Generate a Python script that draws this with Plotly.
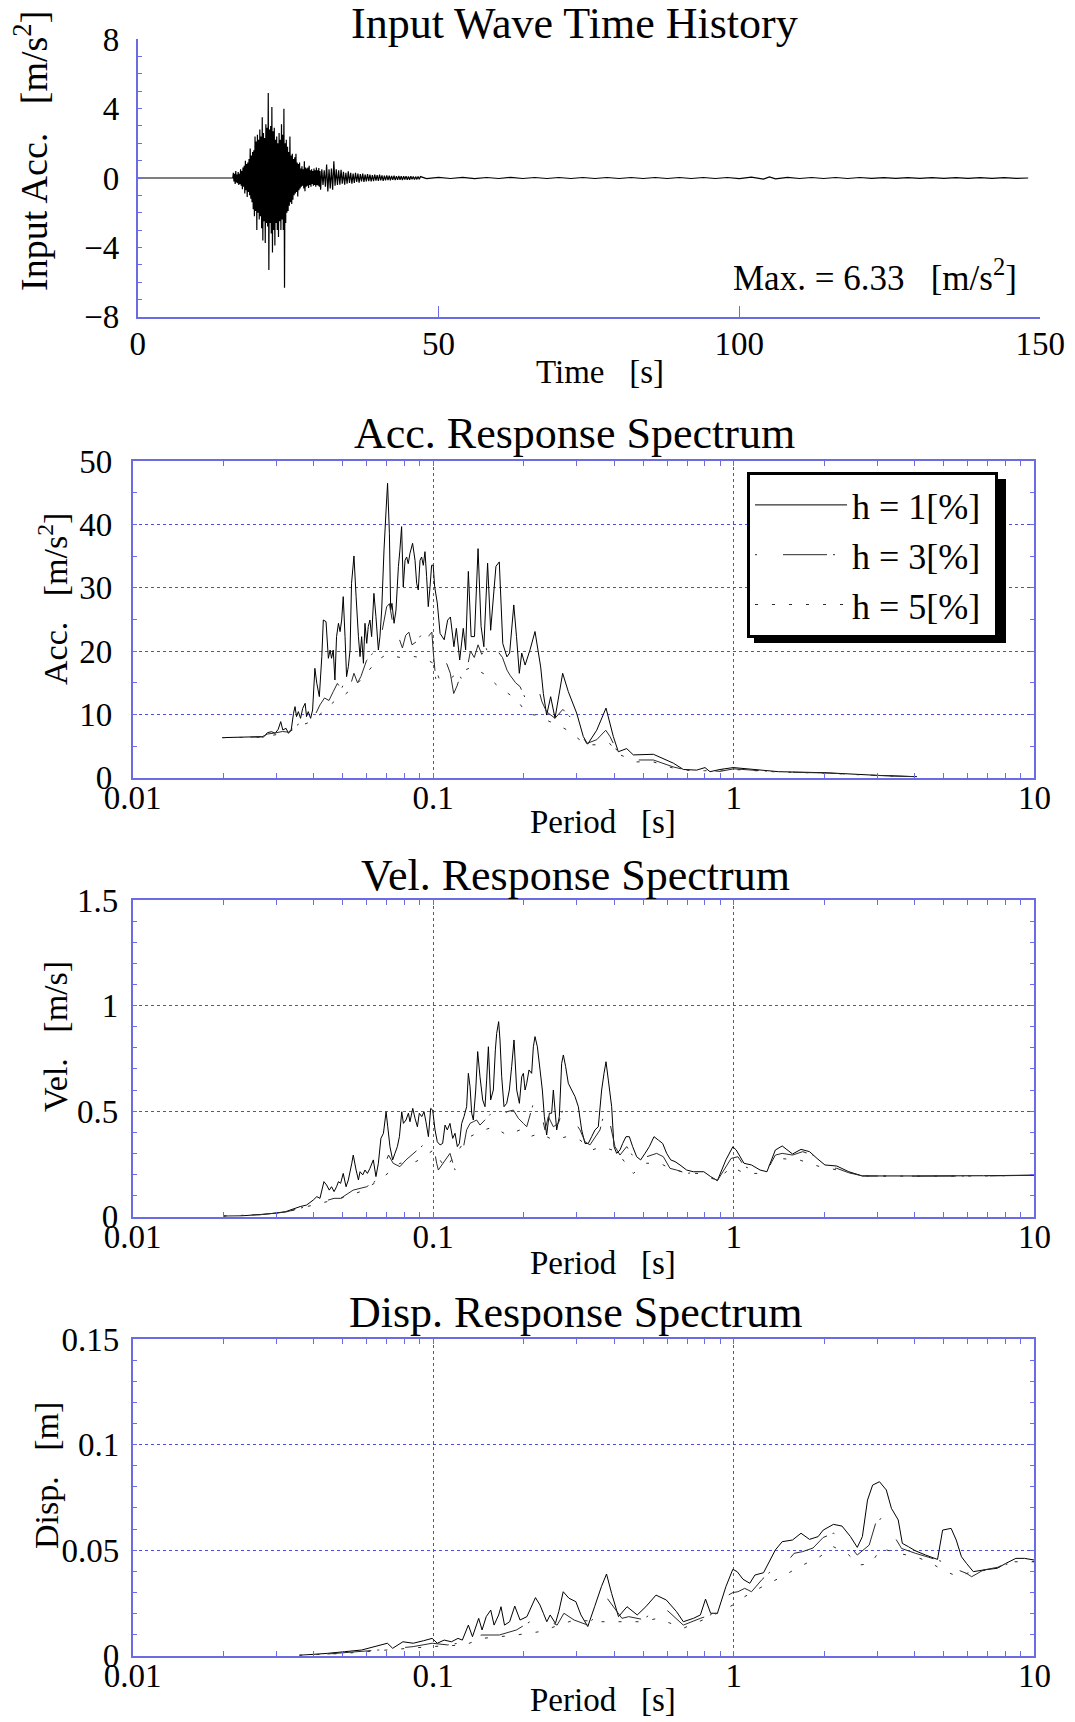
import plotly.graph_objects as go

# ---------------- data ----------------
time_s = [0.0, 15.8,
          15.9, 16.0, 16.1, 16.2, 16.3, 16.4, 16.5, 16.6, 16.7, 16.8, 16.9, 17.0, 17.1, 17.2,
          17.3, 17.4, 17.5, 17.6, 17.7, 17.8, 17.9, 18.0, 18.1, 18.2, 18.3, 18.4, 18.5, 18.6,
          18.7, 18.8, 18.9, 19.0, 19.1, 19.2, 19.3, 19.4, 19.5, 19.6, 19.7, 19.8, 19.9, 20.0,
          20.1, 20.2, 20.3, 20.4, 20.5, 20.6, 20.7, 20.8, 20.9, 21.0, 21.1, 21.2, 21.3, 21.4,
          21.5, 21.6, 21.7, 21.8, 21.9, 22.0, 22.1, 22.2, 22.3, 22.4, 22.5, 22.6, 22.7, 22.8,
          22.9, 23.0, 23.1, 23.2, 23.3, 23.4, 23.5, 23.6, 23.7, 23.8, 23.9, 24.0, 24.1, 24.2,
          24.3, 24.4, 24.5, 24.6, 24.7, 24.8, 24.9, 25.0, 25.1, 25.2, 25.3, 25.4, 25.5, 25.6,
          25.7, 25.8, 25.9, 26.0, 26.1, 26.2, 26.3, 26.4, 26.5, 26.6, 26.7, 26.8, 26.9, 27.0,
          27.1, 27.2, 27.3, 27.4, 27.5, 27.6, 27.7, 27.8, 27.9, 28.0, 28.1, 28.2, 28.3, 28.4,
          28.5, 28.6, 28.7, 28.8, 28.9, 29.0, 29.1, 29.2, 29.3, 29.4, 29.5, 29.6, 29.7, 29.8,
          29.9, 30.0, 30.1, 30.2, 30.3,
          30.4, 30.6, 30.8, 31.0, 31.2, 31.4, 31.6, 31.8, 32.0, 32.2, 32.4, 32.6, 32.8, 33.0,
          33.2, 33.4, 33.6, 33.8, 34.0, 34.2, 34.4, 34.6, 34.8, 35.0, 35.2, 35.4, 35.6, 35.8,
          36.0, 36.2, 36.4, 36.6, 36.8, 37.0, 37.2, 37.4, 37.6, 37.8, 38.0, 38.2, 38.4, 38.6,
          38.8, 39.0, 39.2, 39.4, 39.6, 39.8, 40.0, 40.2, 40.4, 40.6, 40.8, 41.0, 41.2, 41.4,
          41.6, 41.8, 42.0, 42.2, 42.4, 42.6, 42.8, 43.0, 43.2, 43.4, 43.6, 43.8, 44.0, 44.2,
          44.4, 44.6, 44.8, 45.0, 45.2, 45.4, 45.6, 45.8, 46.0, 46.2, 46.4, 46.6, 46.8, 47.0,
          48, 50, 52, 54, 56, 58, 60, 62, 64, 66, 68, 70, 72, 74, 76, 78, 80, 82, 84, 86, 88,
          90, 92, 94, 96, 98, 100, 102, 104, 105, 106, 108, 110, 112, 114, 116, 118, 120, 122,
          124, 126, 128, 130, 132, 134, 136, 138, 140, 142, 144, 146, 148]
input_acc = [0.0, 0.0,
             0.30, -0.20, 0.25, -0.35, 0.40, -0.25, 0.20, -0.30, 0.35, -0.40, 0.25, -0.35, 0.50, -0.45,
             0.40, -0.65, 0.60, -0.50, 0.70, -0.90, 1.00, -0.70, 0.80, -1.10, 0.90, -0.80, 1.10, -1.00,
             1.70, -1.20, 1.30, -1.40, 1.50, -1.80, 1.60, -2.20, 2.40, -1.90, 2.10, -3.00, 2.50, -2.00,
             2.20, -2.40, 2.80, -2.20, 2.40, -2.90, 3.50, -3.60, 2.60, -2.50, 2.30, -3.75, 3.10, -2.60,
             2.90, -2.80, 4.90, -5.30, 2.80, -2.60, 3.00, -3.20, 4.10, -4.30, 2.70, -3.00, 2.90, -3.90,
             2.20, -2.60, 2.40, -3.00, 2.00, -3.40, 2.60, -2.50, 2.20, -3.00, 3.10, -2.40, 2.50, -3.00,
             4.00, -6.33, 2.00, -2.60, 2.20, -2.00, 1.80, -1.90, 1.50, -1.60, 2.40, -1.40, 1.30, -1.50,
             1.40, -1.25, 1.10, -1.00, 1.20, -0.90, 1.40, -0.80, 0.90, -1.06, 0.80, -0.70, 0.90, -0.60,
             0.55, -0.50, 0.67, -0.45, 0.50, -0.60, 0.96, -0.77, 0.60, -0.50, 0.55, -0.45, 0.60, -0.58,
             0.70, -0.40, 0.45, -0.50, 0.50, -0.35, 0.40, -0.45, 0.55, -0.40, 0.45, -0.50, 0.60, -0.40,
             0.45, -0.45, 0.58, -0.50, 0.40,
             -0.67, 0.50, -0.40, 0.45, -0.50, 0.77, -0.77, 0.50, -0.60, 0.55, -0.67, 0.96, -0.45, 0.50,
             -0.40, 0.45, -0.38, 0.48, -0.33, 0.35, -0.38, 0.30, -0.33, 0.38, -0.28, 0.30, -0.33, 0.25,
             -0.28, 0.30, -0.22, 0.25, -0.27, 0.22, -0.20, 0.25, -0.22, 0.20, -0.19, 0.22, -0.18, 0.20,
             -0.20, 0.17, -0.18, 0.19, -0.15, 0.17, -0.17, 0.19, -0.14, 0.15, -0.16, 0.13, -0.14, 0.15,
             -0.12, 0.13, -0.13, 0.12, -0.11, 0.13, -0.12, 0.10, -0.11, 0.12, -0.10, 0.11, -0.12, 0.10,
             -0.09, 0.11, -0.10, 0.09, -0.10, 0.10, -0.08, 0.09, -0.09, 0.08, -0.08, 0.09, -0.07, 0.08,
             -0.04, 0.04, -0.03, 0.04, -0.04, 0.03, -0.03, 0.04, -0.03, 0.03, -0.03, 0.03, -0.03,
             0.03, -0.03, 0.03, -0.03, 0.03, -0.03, 0.03, -0.03, 0.03, -0.03, 0.03, -0.03, 0.03,
             -0.04, 0.05, -0.06, 0.06, -0.05, 0.04, -0.03, 0.03, -0.03, 0.03, -0.03, 0.03, -0.02,
             0.02, -0.02, 0.02, -0.02, 0.02, -0.02, 0.02, -0.02, 0.02, -0.02, 0.02, -0.02, 0.0]

# Acceleration response spectrum [m/s2]
acc_T_h1 = [0.0199, 0.0269, 0.0272, 0.0281, 0.0290, 0.0298, 0.0305, 0.0311, 0.0316, 0.0324,
            0.0330, 0.0337, 0.0343, 0.0347, 0.0351, 0.0356, 0.0362, 0.0368, 0.0375, 0.0379,
            0.0384, 0.0391, 0.0397, 0.0404, 0.0410, 0.0418, 0.0426, 0.0431, 0.0440, 0.0448,
            0.0454, 0.0459, 0.0465, 0.0471, 0.0477, 0.0484, 0.0490, 0.0496, 0.0502, 0.0509,
            0.0515, 0.0522, 0.0529, 0.0535, 0.0545, 0.0554, 0.0564, 0.0571, 0.0578, 0.0586,
            0.0593, 0.0601, 0.0608, 0.0616, 0.0624, 0.0635, 0.0645, 0.0657, 0.0665, 0.0674,
            0.0686, 0.0697, 0.0705, 0.0715, 0.0722, 0.0729, 0.0741, 0.0752, 0.0766, 0.0775,
            0.0785, 0.0795, 0.0806, 0.0816, 0.0826, 0.0837, 0.0854, 0.0870, 0.0881, 0.0892,
            0.0904, 0.0915, 0.0927, 0.0939, 0.0951, 0.0963, 0.0976, 0.0988, 0.1000, 0.1011,
            0.1032, 0.1054, 0.1088, 0.1117, 0.1141, 0.1172, 0.1194, 0.1225, 0.1259, 0.1282,
            0.1309, 0.1337, 0.1372, 0.1410, 0.1443, 0.1474, 0.1517, 0.1553, 0.1617, 0.1659,
            0.1704, 0.1759, 0.1796, 0.1854, 0.1893, 0.1934, 0.1970, 0.2022, 0.2099, 0.2181,
            0.2278, 0.2325, 0.2385, 0.2459, 0.2542, 0.2696, 0.2815, 0.3001, 0.3158, 0.3265,
            0.3499, 0.3757, 0.3974, 0.4129, 0.4402, 0.4632, 0.5400, 0.6293, 0.6794, 0.7525,
            0.8021, 0.8334, 0.8997, 0.9964, 1.41, 2.01, 3.01, 4.07]
acc_h1 = [6.33, 6.49, 6.38, 7.12, 7.27, 7.01, 7.64, 8.86, 7.54, 7.80,
          7.01, 7.54, 10.17, 11.23, 9.65, 10.44, 9.38, 10.96, 11.75, 9.65,
          10.44, 9.38, 10.70, 17.28, 14.92, 12.81, 19.13, 24.92, 24.66, 18.87,
          20.18, 18.87, 20.18, 15.44, 22.29, 24.40, 23.08, 24.92, 28.61, 22.29,
          15.97, 17.55, 20.18, 30.72, 35.04, 28.61, 22.29, 19.13, 22.29, 18.08,
          24.40, 21.23, 23.87, 24.92, 22.29, 29.13, 25.45, 20.18, 22.29, 26.50,
          35.99, 42.31, 46.53, 38.63, 26.50, 27.56, 24.40, 26.50, 33.35, 35.99,
          39.68, 30.14, 34.36, 34.88, 33.83, 35.46, 37.04, 34.36, 30.72, 29.67,
          34.36, 34.88, 33.57, 35.72, 31.77, 27.03, 30.14, 33.57, 33.6, 30.2,
          27.6, 22.8, 21.8, 24.9, 25.4, 20.7, 23.6, 18.6, 23.6, 20.2,
          32.6, 22.3, 22.3, 36.2, 23.9, 20.7, 33.9, 23.3, 33.4, 34.1,
          21.2, 19.1, 19.7, 27.3, 22.3, 16.5, 19.7, 17.8, 20.2, 23.1,
          17.5, 13.3, 9.9, 12.8, 9.4, 16.5, 13.6, 10.2, 6.5, 5.3,
          7.5, 11.0, 6.5, 4.1, 4.6, 3.6, 3.7, 2.3, 1.3, 1.2,
          1.6, 0.95, 1.3, 1.6, 0.95, 0.79, 0.37, 0.16]
acc_T_h3 = [0.0199, 0.0269, 0.0281, 0.0300, 0.0315, 0.0330, 0.0345, 0.0360, 0.0375, 0.0390,
            0.0400, 0.0420, 0.0435, 0.0450, 0.0465, 0.0480, 0.0495, 0.0510, 0.0525, 0.0545,
            0.0560, 0.0575, 0.0600, 0.0625, 0.0650, 0.0675, 0.0700, 0.0715, 0.0730, 0.0750,
            0.0770, 0.0790, 0.0810, 0.0830, 0.0850, 0.0880, 0.0910, 0.0940, 0.0970, 0.0990,
            0.1000, 0.1020, 0.1050, 0.1080, 0.1110, 0.1140, 0.1170, 0.1200, 0.1230, 0.1260,
            0.1300, 0.1330, 0.1370, 0.1410, 0.1450, 0.1500, 0.1545, 0.1590, 0.1626, 0.1700,
            0.1760, 0.1801, 0.1880, 0.1945, 0.2036, 0.2120, 0.2238, 0.2300, 0.2385, 0.2542,
            0.2700, 0.2852, 0.3001, 0.3240, 0.3499, 0.3750, 0.3874, 0.4129, 0.4402, 0.4752,
            0.5400, 0.6293, 0.6970, 0.8000, 0.9000, 1.0000, 1.41, 2.01, 3.01, 4.07]
acc_h3 = [6.33, 6.45, 6.9, 7.1, 7.3, 7.2, 8.0, 8.6, 8.9, 8.4,
          9.4, 11.5, 12.6, 12.2, 13.6, 14.9, 14.0, 15.5, 13.9, 16.5,
          15.0, 16.0, 18.5, 19.5, 20.5, 23.0, 27.0, 27.5, 25.0, 26.0,
          22.0, 20.5, 22.5, 23.0, 21.0, 21.5, 22.5, 20.5, 22.5, 23.0,
          20.0, 15.5, 16.0, 18.5, 18.0, 16.5, 13.3, 14.5, 16.0, 15.0,
          17.5, 20.0, 19.0, 21.0, 19.5, 20.5, 18.6, 19.5, 20.2, 19.0,
          17.0, 16.2, 15.0, 14.4, 12.3, 12.8, 14.1, 12.0, 10.4, 9.4,
          10.8, 9.6, 8.1, 5.4, 6.0, 7.5, 6.5, 3.8, 3.8, 2.8,
          2.8, 1.7, 1.2, 1.2, 1.0, 1.4, 0.9, 0.75, 0.35, 0.15]
acc_T_h5 = [0.0199, 0.0269, 0.0300, 0.0330, 0.0360, 0.0390, 0.0420, 0.0450, 0.0480, 0.0510,
            0.0550, 0.0600, 0.0650, 0.0700, 0.0775, 0.0850, 0.0930, 0.1000, 0.1050, 0.1130,
            0.1200, 0.1350, 0.1500, 0.1630, 0.1800, 0.1900, 0.2050, 0.2180, 0.2600, 0.2800,
            0.3070, 0.3300, 0.3600, 0.3870, 0.4100, 0.4750, 0.5400, 0.6300, 0.7000, 0.8000,
            1.0000, 1.41, 2.01, 3.01, 4.07]
acc_h5 = [6.33, 6.4, 6.8, 7.2, 8.2, 8.8, 10.0, 11.3, 12.5, 13.2,
          14.5, 16.5, 18.5, 19.5, 19.0, 19.2, 18.9, 18.1, 15.5, 15.5,
          16.5, 17.5, 16.2, 14.6, 13.1, 12.3, 10.1, 9.9, 8.3, 7.5,
          6.0, 5.2, 5.2, 5.4, 3.8, 2.5, 2.5, 1.5, 1.2, 1.1,
          1.3, 0.9, 0.72, 0.33, 0.15]

# Velocity response spectrum [m/s]
vel_T_h1 = [0.0201, 0.0230, 0.0269, 0.0299, 0.0323,
            0.0361, 0.0379, 0.0399, 0.0410, 0.0420, 0.0433, 0.0442, 0.0451, 0.0459, 0.0468,
            0.0477, 0.0484, 0.0492, 0.0502, 0.0513, 0.0522, 0.0536, 0.0542, 0.0554, 0.0564,
            0.0571, 0.0583, 0.0593, 0.0604, 0.0616, 0.0632, 0.0645, 0.0657, 0.0670, 0.0683,
            0.0697, 0.0706, 0.0718, 0.0733, 0.0746, 0.0760, 0.0772, 0.0786, 0.0796, 0.0812,
            0.0827, 0.0837, 0.0855, 0.0870, 0.0886, 0.0899, 0.0916, 0.0932, 0.0946, 0.0964,
            0.0981, 0.0996, 0.1014, 0.1032, 0.1054, 0.1075, 0.1095, 0.1114, 0.1137, 0.1161,
            0.1182, 0.1203, 0.1222, 0.1244, 0.1266, 0.1292, 0.1309, 0.1326, 0.1343, 0.1360,
            0.1385, 0.1406, 0.1431, 0.1461, 0.1487, 0.1506, 0.1526, 0.1553, 0.1585, 0.1610,
            0.1626, 0.1651, 0.1668, 0.1690, 0.1720, 0.1756, 0.1792, 0.1824, 0.1857, 0.1896,
            0.1935, 0.1970, 0.1995, 0.2021, 0.2047, 0.2083, 0.2126, 0.2154, 0.2181, 0.2221,
            0.2267, 0.2307, 0.2343, 0.2385, 0.2434, 0.2478, 0.2510, 0.2575, 0.2628, 0.2675,
            0.2710, 0.2758, 0.2815, 0.2888, 0.2963, 0.3040, 0.3118, 0.3199, 0.3281, 0.3366,
            0.3453, 0.3542, 0.3634, 0.3700, 0.3757, 0.3825, 0.3924, 0.3994, 0.4077, 0.4182,
            0.4269, 0.4379, 0.4492, 0.4608, 0.4752, 0.4900, 0.5065, 0.5236, 0.5427, 0.5610,
            0.5799, 0.5980, 0.6166, 0.6374, 0.6623, 0.6969, 0.7334, 0.7947, 0.8373, 0.882,
            0.9413, 0.9924, 1.0186, 1.081, 1.145, 1.223, 1.289, 1.375, 1.449, 1.568,
            1.674, 1.786, 1.892, 2.01, 2.201, 2.413, 2.678, 4.016, 6.772, 10.0]
vel_h1 = [0.003, 0.004, 0.011, 0.017, 0.024,
          0.048, 0.055, 0.079, 0.095, 0.087, 0.166, 0.150, 0.126, 0.142, 0.119,
          0.142, 0.166, 0.158, 0.205, 0.142, 0.174, 0.253, 0.292, 0.221, 0.174,
          0.213, 0.198, 0.221, 0.205, 0.229, 0.269, 0.190, 0.253, 0.371, 0.395,
          0.497, 0.426, 0.332, 0.269, 0.300, 0.332, 0.379, 0.497, 0.442, 0.458,
          0.490, 0.450, 0.513, 0.466, 0.426, 0.490, 0.474, 0.497, 0.450, 0.379,
          0.513, 0.505, 0.411, 0.355, 0.340, 0.347, 0.434, 0.411, 0.442, 0.371,
          0.395, 0.332, 0.347, 0.442, 0.474, 0.521, 0.679, 0.616, 0.490, 0.458,
          0.600, 0.782, 0.663, 0.553, 0.521, 0.647, 0.805, 0.553, 0.600, 0.790,
          0.868, 0.924, 0.837, 0.663, 0.521, 0.537, 0.600, 0.711, 0.837, 0.600,
          0.537, 0.663, 0.679, 0.600, 0.632, 0.695, 0.679, 0.805, 0.853, 0.805,
          0.695, 0.600, 0.474, 0.387, 0.490, 0.490, 0.600, 0.411, 0.474, 0.726,
          0.766, 0.711, 0.632, 0.600, 0.569, 0.521, 0.411, 0.347, 0.347, 0.379,
          0.411, 0.426, 0.600, 0.679, 0.734, 0.647, 0.521, 0.332, 0.300, 0.316,
          0.347, 0.379, 0.379, 0.332, 0.284, 0.269, 0.300, 0.332, 0.379, 0.363,
          0.347, 0.300, 0.269, 0.261, 0.245, 0.221, 0.213, 0.213, 0.190, 0.171,
          0.269, 0.331, 0.316, 0.253, 0.245, 0.221, 0.213, 0.316, 0.335, 0.297,
          0.319, 0.308, 0.276, 0.245, 0.240, 0.213, 0.193, 0.193, 0.194, 0.197]
vel_T_h3 = [0.0201, 0.0269, 0.0323, 0.0361, 0.0410, 0.0468, 0.0492, 0.0542, 0.0601, 0.0651,
            0.0667, 0.0710, 0.0736, 0.0775, 0.0812, 0.0927, 0.0976, 0.1001, 0.1027, 0.1040,
            0.1137, 0.1182, 0.1212, 0.1253, 0.1292, 0.1326, 0.1360, 0.1395, 0.1431, 0.1561,
            0.1626, 0.1668, 0.1711, 0.1756, 0.1848, 0.1920, 0.1995, 0.2047, 0.2154, 0.2210,
            0.2267, 0.2355, 0.2416, 0.2510, 0.2608, 0.2710, 0.2780, 0.2926, 0.3079, 0.3199,
            0.3323, 0.3588, 0.3727, 0.3874, 0.4025, 0.4182, 0.4402, 0.4632, 0.4875, 0.5130,
            0.5540, 0.5829, 0.6134, 0.6455, 0.6969, 0.7717, 0.7947, 0.882, 0.9795, 1.032,
            1.087, 1.207, 1.289, 1.375, 1.449, 1.568, 1.695, 1.834, 1.983, 2.201,
            2.413, 2.678, 4.016, 6.772, 10.0]
vel_h3 = [0.003, 0.010, 0.022, 0.040, 0.063, 0.087, 0.087, 0.126, 0.142, 0.174,
          0.190, 0.292, 0.253, 0.237, 0.269, 0.340, 0.360, 0.340, 0.253, 0.221,
          0.300, 0.221, 0.253, 0.308, 0.411, 0.442, 0.450, 0.458, 0.434, 0.490,
          0.521, 0.505, 0.474, 0.497, 0.505, 0.466, 0.442, 0.426, 0.537, 0.537,
          0.513, 0.411, 0.474, 0.426, 0.442, 0.513, 0.490, 0.458, 0.411, 0.355,
          0.340, 0.411, 0.505, 0.442, 0.332, 0.292, 0.332, 0.284, 0.237, 0.284,
          0.300, 0.284, 0.229, 0.221, 0.205, 0.213, 0.205, 0.171, 0.276, 0.284,
          0.237, 0.213, 0.218, 0.292, 0.300, 0.292, 0.308, 0.292, 0.237, 0.229,
          0.208, 0.193, 0.192, 0.193, 0.196]
vel_T_h5 = [0.0201, 0.0269, 0.0323, 0.0361, 0.0420, 0.0492, 0.0571, 0.0651, 0.0718, 0.0775,
            0.0876, 0.0934, 0.1001, 0.1100, 0.1292, 0.1431, 0.1585, 0.1756, 0.1945, 0.2099,
            0.2267, 0.2510, 0.2780, 0.3079, 0.3375, 0.3643, 0.3934, 0.4247, 0.4632, 0.5130,
            0.5683, 0.5980, 0.6969, 0.7717, 0.882, 0.9795, 1.087, 1.207, 1.411, 1.651,
            1.932, 2.382, 2.678, 4.016, 6.772, 10.0]
vel_h5 = [0.003, 0.010, 0.021, 0.040, 0.063, 0.087, 0.118, 0.166, 0.213, 0.253,
          0.261, 0.284, 0.316, 0.229, 0.371, 0.403, 0.426, 0.387, 0.411, 0.379,
          0.395, 0.363, 0.379, 0.363, 0.316, 0.332, 0.316, 0.276, 0.205, 0.253,
          0.253, 0.237, 0.205, 0.205, 0.171, 0.237, 0.205, 0.205, 0.276, 0.269,
          0.237, 0.213, 0.193, 0.192, 0.193, 0.196]

# Displacement response spectrum [m]
disp_T_h1 = [0.0359, 0.0444, 0.0507, 0.0578, 0.0704, 0.0733, 0.0793, 0.0858, 0.0929, 0.0992,
             0.1032, 0.1088, 0.1150, 0.1209, 0.1250, 0.1309, 0.1351, 0.1417, 0.1454, 0.1501,
             0.1554, 0.1594, 0.1651, 0.1681, 0.1727, 0.1796, 0.1868, 0.1945, 0.2050, 0.2189,
             0.2266, 0.2326, 0.2387, 0.2450, 0.2550, 0.2617, 0.2707, 0.2830, 0.2982, 0.3101,
             0.3268, 0.3443, 0.3627, 0.3772, 0.3922, 0.4135, 0.4414, 0.4772, 0.5097, 0.5511,
             0.5960, 0.6446, 0.6792, 0.7342, 0.7742, 0.8053, 0.8373, 0.8820, 0.9413, 0.9924,
             1.0264, 1.0730, 1.1303, 1.1754, 1.2557, 1.3751, 1.4488, 1.5676, 1.6732, 1.7856,
             1.9074, 1.9834, 2.1447, 2.2908, 2.4445, 2.5749, 2.6778, 2.7847, 2.8959, 3.0524,
             3.2163, 3.3447, 3.5235, 3.6363, 3.8129, 4.0163, 4.3427, 4.7612, 4.9503, 5.2838,
             5.4949, 5.7184, 5.9454, 6.2641, 6.7717, 7.5199, 8.0260, 8.6800, 9.2706, 10.0]
disp_h1 = [0.0002, 0.0011, 0.0019, 0.0027, 0.0059, 0.0035, 0.0066, 0.0059, 0.0071, 0.0082,
           0.0059, 0.0074, 0.0066, 0.0082, 0.0074, 0.0145, 0.0090, 0.0177, 0.0122, 0.0185,
           0.0216, 0.0145, 0.0193, 0.0232, 0.0145, 0.0161, 0.0235, 0.0169, 0.0185, 0.0275,
           0.0240, 0.0201, 0.0161, 0.0193, 0.0153, 0.0209, 0.0303, 0.0272, 0.0256, 0.0193,
           0.0138, 0.0232, 0.0327, 0.0387, 0.0295, 0.0185, 0.0232, 0.0193, 0.0232, 0.0287,
           0.0264, 0.0209, 0.0161, 0.0177, 0.0193, 0.0268, 0.0201, 0.0201, 0.0327, 0.0409,
           0.0398, 0.0362, 0.0343, 0.0382, 0.0393, 0.0501, 0.0540, 0.0548, 0.0580, 0.0551,
           0.0564, 0.0595, 0.0622, 0.0614, 0.0564, 0.0513, 0.0564, 0.0737, 0.0808, 0.0824,
           0.0785, 0.0698, 0.0643, 0.0532, 0.0516, 0.0497, 0.0477, 0.0456, 0.0595, 0.0603,
           0.0548, 0.0469, 0.0437, 0.0398, 0.0406, 0.0414, 0.0437, 0.0461, 0.0461, 0.0453]
disp_T_h3 = [0.0359, 0.0444, 0.0659, 0.0858, 0.0992, 0.1117, 0.1209, 0.1309, 0.1454, 0.1659,
             0.1893, 0.2189, 0.2266, 0.2450, 0.2584, 0.2722, 0.2943, 0.3268, 0.3487, 0.3723,
             0.3800, 0.4245, 0.4472, 0.4966, 0.5370, 0.5584, 0.6036, 0.6792, 0.7742, 0.8373,
             0.9413, 0.9924, 1.0320, 1.0872, 1.1454, 1.2397, 1.3751, 1.4870, 1.5879, 1.6947,
             1.8343, 1.9834, 2.1447, 2.2908, 2.4445, 2.5749, 2.8210, 2.9745, 3.0934, 3.2163,
             3.6150, 4.0163, 4.4570, 4.9503, 5.2838, 5.5714, 5.9454, 6.1823, 6.7717, 7.7521,
             8.8330, 10.0]
disp_h3 = [0.0002, 0.0008, 0.0027, 0.0043, 0.0059, 0.0051, 0.0059, 0.0090, 0.0098, 0.0098,
           0.0122, 0.0177, 0.0169, 0.0161, 0.0145, 0.0201, 0.0169, 0.0145, 0.0193, 0.0267,
           0.0270, 0.0177, 0.0185, 0.0172, 0.0201, 0.0240, 0.0212, 0.0145, 0.0177, 0.0193,
           0.0280, 0.0299, 0.0303, 0.0319, 0.0303, 0.0360, 0.0421, 0.0437, 0.0485, 0.0493,
           0.0510, 0.0560, 0.0580, 0.0564, 0.0516, 0.0477, 0.0524, 0.0635, 0.0650, 0.0627,
           0.0508, 0.0485, 0.0466, 0.0445, 0.0461, 0.0406, 0.0390, 0.0374, 0.0406, 0.0422,
           0.0456, 0.0445]
disp_T_h5 = [0.0359, 0.0507, 0.0659, 0.0979, 0.1275, 0.1454, 0.1893, 0.2266, 0.2943, 0.3627,
             0.4472, 0.4966, 0.5584, 0.6792, 0.8373, 0.9924, 1.0872, 1.2723, 1.4488, 1.6512,
             1.9323, 2.1447, 2.3820, 2.6090, 2.8582, 3.0934, 3.5235, 4.0163, 4.4570, 4.9503,
             5.5714, 6.1823, 7.1372, 8.3837, 10.0]
disp_h5 = [0.0002, 0.0011, 0.0024, 0.0043, 0.0051, 0.0082, 0.0098, 0.0114, 0.0169, 0.0161,
           0.0161, 0.0161, 0.0177, 0.0130, 0.0185, 0.0240, 0.0280, 0.0335, 0.0374, 0.0421,
           0.0469, 0.0516, 0.0485, 0.0429, 0.0437, 0.0508, 0.0485, 0.0469, 0.0445, 0.0406,
           0.0374, 0.0398, 0.0406, 0.0445, 0.0445]

damping_labels = ["h = 1[%]\u00a0", "h = 3[%]\u00a0", "h = 5[%]\u00a0"]
period_ticks = [0.01, 0.1, 1, 10]
period_ticktext = ["0.01", "0.1", "1", "10"]

# ---------------- figure ----------------
W, H = 1075, 1722
FONT = "Liberation Serif, Times New Roman, serif"
AXC = "#6b6be6"
GRIDC = "#4c4cdc"


def fx(p):
    return p / W


def fy(p):
    return 1 - p / H


line_styles = [dict(color="#000000", width=1.0, simplify=False),
               dict(color="#2a2a2a", width=1.0, dash="2px,26px,44px,6px", simplify=False),
               dict(color="#2a2a2a", width=1.0, dash="3px,14px", simplify=False)]

fig = go.Figure()
fig.add_trace(go.Scatter(x=time_s, y=input_acc, mode="lines",
                         line=dict(color="black", width=1.2, simplify=False),
                         xaxis="x", yaxis="y", showlegend=False, hoverinfo="skip"))

panels = [
    (2, [(acc_T_h1, acc_h1), (acc_T_h3, acc_h3), (acc_T_h5, acc_h5)]),
    (3, [(vel_T_h1, vel_h1), (vel_T_h3, vel_h3), (vel_T_h5, vel_h5)]),
    (4, [(disp_T_h1, disp_h1), (disp_T_h3, disp_h3), (disp_T_h5, disp_h5)]),
]
for k, curves in panels:
    for i, (tt, vv) in enumerate(curves):
        fig.add_trace(go.Scatter(x=tt, y=vv, mode="lines", line=line_styles[i],
                                 name=damping_labels[i], legendgroup=damping_labels[i],
                                 showlegend=(k == 2), xaxis=f"x{k}", yaxis=f"y{k}",
                                 hoverinfo="skip"))

tickfont = dict(family=FONT, size=33, color="black")
minor_log = [m * d for d in (0.01, 0.1, 1) for m in range(2, 10)]

common_axis = dict(showline=True, linecolor=AXC, linewidth=1.5, ticks="inside",
                   tickcolor=AXC, tickwidth=1, tickfont=tickfont, zeroline=False)

layout = dict(
    width=W, height=H, margin=dict(l=0, r=0, t=0, b=0, autoexpand=False),
    paper_bgcolor="white", plot_bgcolor="white", hovermode=False,
    font=dict(family=FONT, color="black"),
    xaxis=dict(domain=[fx(137.7), fx(1040.2)], range=[0, 150], tickvals=[0, 50, 100, 150],
               ticklen=11, showgrid=False, anchor="y", ticklabelstandoff=-3, **common_axis),
    yaxis=dict(domain=[fy(316.7), fy(39.3)], range=[-8, 8], tickvals=[-8, -4, 0, 4, 8],
               ticklen=5, showgrid=False, anchor="x", ticklabelstandoff=10,
               minor=dict(dtick=1, tick0=0, ticks="inside", ticklen=5, tickcolor=AXC,
                          showgrid=False),
               **common_axis),
)

ydefs = {2: ([fy(777.7), fy(461.3)], [0, 50], 10, 5, 12),
         3: ([fy(1216.7), fy(900)], [0, 1.5], 0.5, 0.1, 6),
         4: ([fy(1655.7), fy(1339)], [0, 0.15], 0.05, 0.01, 5)}
for k, (dom, rng, dt, mdt, ystand) in ydefs.items():
    layout[f"xaxis{k}"] = dict(domain=[fx(132.6), fx(1034.4)], type="log", range=[-2, 1],
                               tickvals=period_ticks, ticktext=period_ticktext,
                               ticklen=5, mirror="allticks", showgrid=True,
                               gridcolor=GRIDC, griddash="dot", gridwidth=1,
                               anchor=f"y{k}", ticklabelstandoff=-10,
                               minor=dict(tickvals=minor_log, ticks="inside", ticklen=5,
                                          tickcolor=AXC, showgrid=False),
                               **common_axis)
    layout[f"yaxis{k}"] = dict(domain=dom, range=rng, dtick=dt, tick0=0, ticklen=5,
                               mirror="allticks", showgrid=True, gridcolor=GRIDC,
                               griddash="dot", gridwidth=1, anchor=f"x{k}",
                               ticklabelstandoff=ystand,
                               minor=dict(dtick=mdt, tick0=0, ticks="inside", ticklen=5,
                                          tickcolor=AXC, showgrid=False),
                               **common_axis)

layout["legend"] = dict(x=fx(747), y=fy(472), xanchor="left", yanchor="top",
                        bgcolor="white", bordercolor="black", borderwidth=3,
                        font=dict(family=FONT, size=36, color="black"),
                        itemwidth=92, tracegroupgap=0)

# legend drop shadow (sized to the rendered legend box)
layout["shapes"] = [dict(type="rect", xref="paper", yref="paper",
                         x0=fx(754), x1=fx(1006), y0=fy(643), y1=fy(479),
                         fillcolor="black", line=dict(width=0), layer="above")]

ann = []


def add_text(text, x, y, size, angle=0):
    ann.append(dict(text=text, x=fx(x), y=fy(y), xref="paper", yref="paper",
                    xanchor="center", yanchor="middle", showarrow=False, textangle=angle,
                    font=dict(family=FONT, size=size, color="black")))


add_text("Input Wave Time History", 574, 24, 44)
add_text("Acc. Response Spectrum", 574, 434, 44)
add_text("Vel. Response Spectrum", 575, 875, 44)
add_text("Disp. Response Spectrum", 575, 1312, 44)
add_text("Time\u00a0\u00a0\u00a0[s]", 600, 372, 33)
add_text("Period\u00a0\u00a0\u00a0[s]", 603, 822, 33)
add_text("Period\u00a0\u00a0\u00a0[s]", 603, 1263, 33)
add_text("Period\u00a0\u00a0\u00a0[s]", 603, 1700, 33)
add_text("Max. = 6.33\u00a0\u00a0\u00a0[m/s<sup>2</sup>]", 875, 275, 35)
add_text("Input Acc.\u00a0\u00a0\u00a0[m/s<sup>2</sup>]", 31, 151, 38, -90)
add_text("Acc.\u00a0\u00a0\u00a0[m/s<sup>2</sup>]", 53, 599, 34, -90)
add_text("Vel.\u00a0\u00a0\u00a0[m/s]", 55, 1037, 34, -90)
add_text("Disp.\u00a0\u00a0\u00a0[m]", 46, 1476, 34, -90)
layout["annotations"] = ann

fig.update_layout(**layout)
fig.write_html("out.html", config={"displayModeBar": False})
